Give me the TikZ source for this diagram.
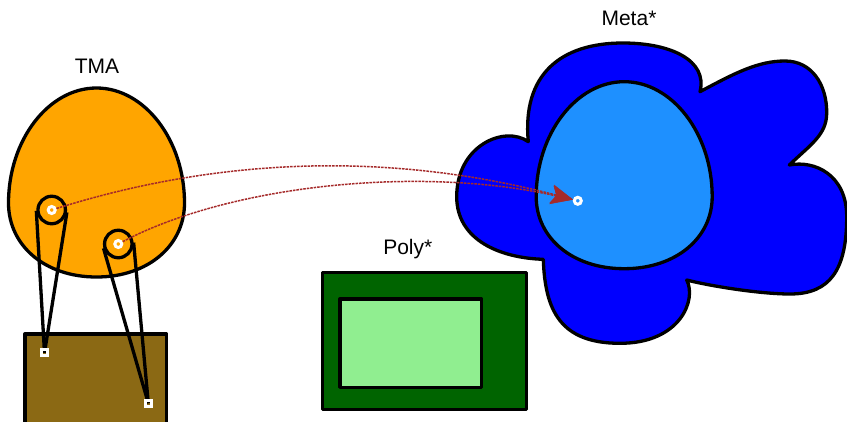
\documentclass[tikz,border=0pt]{standalone}
\usepackage{fontspec}
\setmainfont{Liberation Sans}
\usetikzlibrary{calc,arrows.meta}
\definecolor{tmaorange}{HTML}{FFA500}
\definecolor{metablue}{HTML}{0000FF}
\definecolor{metalight}{HTML}{1E90FF}
\definecolor{polydark}{HTML}{006400}
\definecolor{polylight}{HTML}{90EE90}
\definecolor{boxbrown}{HTML}{8B6914}
\definecolor{linkbrown}{HTML}{A52A2A}
\tikzset{
  outline/.style={draw=black, line width=3.3pt, line join=round},
  txtlabel/.style={font=\fontsize{21}{25}\selectfont, anchor=base, inner sep=0pt},
  pulley/.style={circle, draw=black, line width=3.3pt, minimum size=27.5pt, inner sep=0pt},
  ring/.style={circle, draw=white, line width=3pt, minimum size=7pt, inner sep=0pt},
  pin/.style={rectangle, draw=white, line width=3pt, minimum size=6pt, inner sep=0pt},
  belt/.style={draw=black, line width=3.3pt},
  link/.style={draw=linkbrown, line width=1.5pt, dash pattern=on 2.5pt off 1pt,
               -{Stealth[length=22pt, width=19pt, inset=5pt, line width=0.5pt, fill=linkbrown, color=linkbrown]}},
}
\newcommand{\eggpath}[3]{% center x, center y, lower semi-axis
  (#1,#2+#3) .. controls (#1+52,#2+#3) and (#1+88,#2+0.57*#3) .. (#1+88,#2)
  .. controls (#1+88,#2-63) and (#1+48,#2-115) .. (#1,#2-115)
  .. controls (#1-48,#2-115) and (#1-88,#2-63) .. (#1-88,#2)
  .. controls (#1-88,#2+0.57*#3) and (#1-52,#2+#3) .. (#1,#2+#3) -- cycle}
\begin{document}
\begin{tikzpicture}[x=1pt, y=-1pt]
\useasboundingbox (0,0) rectangle (847,421);
% brown box
\path[outline, fill=boxbrown] (25,334) rectangle (166.7,430);
% TMA egg
\path[outline, fill=tmaorange] \eggpath{96.5}{203}{74};
% Poly boxes
\path[outline, fill=polydark] (322.3,272.3) rectangle (526.7,409.5);
\path[outline, fill=polylight] (340,299) rectangle (481.7,387.3);
% Meta cloud
\path[outline, fill=metablue]
  (528.3,141.7) .. controls (522,75) and (560,43) .. (623,43)
  .. controls (670,43) and (708,60) .. (700,91.7)
  .. controls (735,73) and (758,61) .. (785,61)
  .. controls (812,61) and (827,85) .. (826.7,113)
  .. controls (826.7,135) and (810,145) .. (789.3,165)
  .. controls (815,160) and (846.7,175) .. (846.7,216.7)
  .. controls (846.7,270) and (830,294) .. (790,294)
  .. controls (760,294) and (710,286) .. (686.7,280)
  .. controls (697,300) and (680,343.3) .. (620,343.3)
  .. controls (560,343.3) and (545,310) .. (543.3,259.3)
  .. controls (500,258) and (456.7,240) .. (456.7,196.7)
  .. controls (456.7,145) and (505,125) .. (528.3,141.7) -- cycle;
\path[outline, fill=metalight] \eggpath{624.2}{196.7}{72};
% labels
\node[txtlabel] (tma) at (97,73.3) {TMA};
\node[txtlabel] (meta) at (629,25) {Meta*};
\node[txtlabel] (poly) at (407.8,254) {Poly*};
% pulleys and pins
\node[pulley] (c1) at (51.7,210) {};
\node[pulley] (c2) at (118.3,244) {};
\coordinate (s1) at (44.5,352.8);
\coordinate (s2) at (148.3,403.2);
\draw[belt] (tangent cs:node=c1,point={(s1)},solution=1) -- (s1);
\draw[belt] (tangent cs:node=c1,point={(s1)},solution=2) -- (s1);
\draw[belt] (tangent cs:node=c2,point={(s2)},solution=1) -- (s2);
\draw[belt] (tangent cs:node=c2,point={(s2)},solution=2) -- (s2);
\node[pin] (p1) at (s1) {};
\node[pin] (p2) at (s2) {};
% rings
\node[ring] (r1) at (c1) {};
\node[ring] (r2) at (c2) {};
\node[ring] (m) at (577.8,200.8) {};
% links
\draw[link] (r1) .. controls (230,154) and (400,154) .. (m);
\draw[link] (r2) .. controls (230,185) and (420,165) .. (m);
\end{tikzpicture}
\end{document}
